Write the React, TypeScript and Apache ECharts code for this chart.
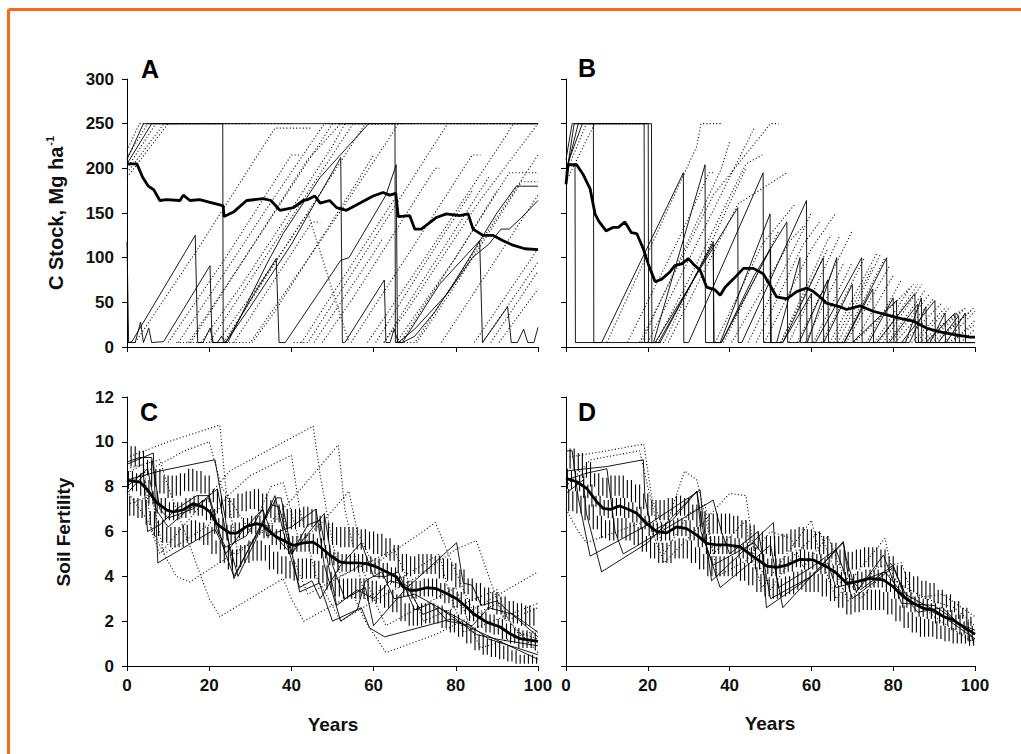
import React, { useEffect, useRef } from "react";
import * as echarts from "echarts";

// ---------- Axis settings ----------
const yearTicks = [0, 20, 40, 60, 80, 100];
const carbonMax = 300;
const carbonStep = 50;
const fertMax = 12;
const fertStep = 2;

// "-" marks a break in a dotted run (no line drawn across a harvest drop)
const G = "-";

// ---------- Panel A: C stock, scenario 1 ----------
const meanA = [[0,205],[2.4,205],[3.8,190],[5.2,180],[6.5,176],[8,164],[9.6,165],[12.9,164],[13.7,170],[15.3,164],[17.7,165],[20.2,162],[22.6,159],[23.4,158],[23.6,146],[25.9,151],[29.1,164],[33.1,166],[35,164],[37.2,153],[40.5,156],[42.9,164],[44,165],[45.7,169],[47,161],[49.3,164],[51,156],[53.4,153],[56.6,161],[59.9,169],[62.3,173],[63.9,170],[65.4,172],[66,146],[68.8,147],[70,132],[71.6,132],[75.3,145],[77.7,149],[80.9,147],[83,149],[84.2,132],[86.6,125],[89,125],[91.5,119],[93.9,114],[96.8,110],[100,109]];
const solidA1 = [[0,205],[6,250],[100,250]];
const solidA2 = [[0,210],[4,250],[23.3,250],[23.4,5],[24.5,5],[34,93],[38,127],[47,190],[58.8,250],[65.2,250],[65.3,5],[67,5],[70,12],[75,40],[80,75],[86,120],[90,150],[94.7,180],[100,180]];
const solidA3 = [[0,118],[0.4,5],[1.2,6],[16.6,125],[17.2,5],[18.5,5],[20.2,21],[21,5],[24,5],[31,60],[36.3,99],[37,5],[38.5,5],[52,97],[54,100],[63,170],[65.5,204],[65.8,5],[67,5],[76,70],[85.8,119],[86.5,5],[92.6,45],[93.5,5],[95,5],[96.5,20],[97.5,5],[99,5],[100,22]];
const solidA4 = [[0,5],[2,5],[3.3,28],[4,5],[5.3,21],[6,5],[8.9,6],[20.2,91],[20.7,5],[22,5],[23,12],[24,5],[30,45],[40,115],[52,212],[52.4,5],[53,5],[62.6,75],[63,5],[64,5],[65,20],[66,5],[70,20],[78,60],[84,100],[88,115],[91,132],[93,132],[96,145],[100,164]];
const dotA1 = [[0,200],[7,250],[40,250],[40.2,G],[40.5,5],[44,5],[78,250],[100,250]];
const dotA2 = [[0,195],[9,250],[23,250],[23.2,G],[23.5,5],[27,30],[58,250],[66,250],[66.2,G],[66.5,5],[70,5],[100,215]];
const dotA3 = [[0,212],[5,250],[12,250],[12.2,G],[12.5,5],[19,50],[34,155],[48,250],[100,250]];
const dotA4 = [[2,5],[18,115],[20,130],[36,245],[45,245],[45.2,G],[45.5,5],[60,105],[62,120],[62.2,G],[62.5,5],[70,60],[88,190],[88.2,G],[88.5,5],[100,85]];
const dotA5 = [[10,5],[24,100],[40,215],[42,215],[42.2,G],[42.5,5],[48,45],[65,165],[66,165],[66.2,G],[66.5,5],[82,115],[93,195],[100,195]];
const dotA6 = [[15,5],[33,130],[50,250],[62,250],[62.2,G],[62.5,5],[68,40],[86,165],[100,250]];
const dotA7 = [[20,5],[40,145],[55,250],[65,250],[65.2,G],[65.5,5],[80,100],[90,175],[90.2,G],[90.5,5],[100,65]];
const dotA8 = [[26,5],[45,140],[47,140],[47.2,G],[47.5,5],[55,55],[75,200],[76,200],[76.2,G],[76.5,5],[95,135],[100,170]];
const dotA9 = [[0,190],[10,250],[30,250],[30.2,G],[30.5,5],[36,40],[56,185],[60,215],[60.2,G],[60.5,5],[72,90],[84,175],[84.2,G],[84.5,5],[100,110]];
const dotA10 = [[0,220],[3,250],[15,250],[15.2,G],[15.5,5],[28,95],[44,210],[52,250],[70,250],[70.2,G],[70.5,5],[80,70],[96,185],[100,185]];
const dotA11 = [[12,5],[30,5],[48,125],[64,235],[66,250],[100,250]];
const dotA12 = [[18,5],[28,70],[38,140],[50,225],[53,250],[58,250],[58.2,G],[58.5,5],[74,110],[92,235],[94,250],[100,250]];
const dotA13 = [[22,5],[36,95],[44,150],[54,5],[54.2,G],[54.5,5],[70,115],[84,215],[86,215],[86.2,G],[86.5,5],[100,95]];

// ---------- Panel B: C stock, scenario 2 ----------
const meanB = [[0,182],[0.5,204],[2.6,204],[4.2,193],[5.9,177],[7.1,149],[8,141],[9.8,130],[11.6,134],[12.8,134],[14.4,140],[16,128],[17.3,127],[18.9,110],[20.1,93],[21.8,73],[23.4,76],[25.4,84],[26.6,91],[28.3,93],[29.9,99],[31.1,93],[32.8,86],[34.4,67],[36.4,64],[37.7,58],[38.9,67],[40.9,76],[43.4,88],[45.8,88],[48.2,82],[49.9,69],[51.5,56],[54,54],[56.4,62],[58.8,66],[60.5,62],[62.1,56],[63.7,49],[67,45],[68.6,42],[71.9,46],[75.1,40],[78.4,36],[81.7,32],[84.9,29],[88.2,21],[91.4,17],[94.7,14],[98.8,11],[100,11]];
const solidB1 = [[0,190],[2,250],[19.1,250],[19.2,5],[21.4,5],[34,204],[34.1,5],[37.7,5],[49.9,149],[50,5],[53,5],[62.9,100],[63,5],[68,5],[78.4,100],[78.5,5],[82,5],[90.2,52],[90.3,5],[93,5],[97.6,38],[97.7,5],[100,5]];
const solidB2 = [[0,204],[2.2,204],[2.3,5],[8.7,5],[28.7,195],[28.8,5],[30,5],[48.2,195],[48.3,5],[51.5,5],[57.2,100],[57.3,5],[59,5],[66.2,100],[66.3,5],[70,5],[80.8,52],[80.9,5],[83,5],[86.9,55],[87,5],[89,5],[92.7,38],[92.8,5],[100,5]];
const solidB3 = [[0,195],[3,250],[20.1,250],[20.2,5],[21.8,5],[42,156],[42.1,5],[43,5],[58.8,164],[58.9,5],[61,5],[72.3,100],[72.4,5],[76,5],[85.3,60],[85.4,5],[88,5],[95.1,38],[95.2,5],[100,5]];
const solidB4 = [[0,200],[4,250],[6.7,250],[6.8,5],[22.6,5],[36,115],[36.1,5],[38,5],[50,110],[50.2,5],[53,5],[60,60],[60.2,5],[63,5],[70,70],[70.2,5],[74,5],[80,55],[80.2,5],[84,5],[88,45],[88.2,5],[100,5]];
const solidB5 = [[0,210],[1.5,250],[20.9,250],[21,5],[23,5],[36,118],[36.2,5],[38,5],[46,80],[54,140],[54.2,5],[57,5],[64,75],[64.2,5],[68,5],[75,65],[75.2,5],[79,5],[86,48],[86.2,5],[91,5],[96,35],[96.2,5],[100,5]];
const dotB1 = [[0,195],[5,250],[20,250],[20.2,G],[20.5,5],[24,5],[44,200],[44.2,G],[44.5,5],[60,150],[60.2,G],[60.5,5],[70,95],[70.2,G],[70.5,5],[80,80],[80.2,G],[80.5,5],[90,55],[90.2,G],[90.5,5],[100,45]];
const dotB2 = [[10,5],[32,225],[33,250],[38,250],[38.2,G],[38.5,5],[52,130],[52.2,G],[52.5,5],[64,110],[64.2,G],[64.5,5],[76,105],[76.2,G],[76.5,5],[86,70],[86.2,G],[86.5,5],[96,40],[96.2,G],[96.5,5],[100,20]];
const dotB3 = [[20,5],[40,190],[46,245],[46.2,G],[46.5,5],[58,115],[62,140],[62.2,G],[62.5,5],[73,100],[73.2,G],[73.5,5],[82,75],[82.2,G],[82.5,5],[92,50],[92.2,G],[92.5,5],[100,40]];
const dotB4 = [[25,5],[42,160],[54,195],[54.2,G],[54.5,5],[67,125],[67.2,G],[67.5,5],[78,100],[78.2,G],[78.5,5],[88,65],[88.2,G],[88.5,5],[98,45]];
const dotB5 = [[15,5],[28,125],[35,195],[36,195],[36.2,G],[36.5,5],[48,115],[56,160],[56.2,G],[56.5,5],[70,130],[70.2,G],[70.5,5],[85,70],[85.2,G],[85.5,5],[94,45],[94.2,G],[94.5,5],[100,30]];
const dotB6 = [[0,185],[7,250],[18,250],[18.2,G],[18.5,5],[30,120],[38,200],[40,230],[40.2,G],[40.5,5],[55,120],[58,135],[58.2,G],[58.5,5],[68,95],[68.2,G],[68.5,5],[79,90],[79.2,G],[79.5,5],[89,60],[89.2,G],[89.5,5],[99,40]];
const dotB7 = [[18,5],[36,170],[50,250],[52,250],[52.2,G],[52.5,5],[64,120],[65,125],[65.2,G],[65.5,5],[75,90],[75.2,G],[75.5,5],[84,65],[84.2,G],[84.5,5],[93,45],[93.2,G],[93.5,5],[100,25]];
const dotB8 = [[22,5],[30,75],[44,205],[48,215],[48.2,G],[48.5,5],[60,110],[66,150],[66.2,G],[66.5,5],[77,105],[77.2,G],[77.5,5],[87,70],[87.2,G],[87.5,5],[97,42]];

// ---------- Panel C: soil fertility, scenario 1 ----------
const meanC = [[0,8.28],[3.2,8.2],[4.8,7.9],[7.2,7.3],[9.7,6.95],[11.3,6.87],[13.7,6.97],[16.1,7.24],[18.6,7.09],[20.2,6.87],[21.8,6.35],[23.4,6.13],[25.1,5.93],[26.7,5.93],[29.1,6.23],[31.5,6.35],[33.2,6.27],[34.8,5.98],[36.4,5.75],[38.8,5.53],[40.5,5.38],[42.9,5.49],[45.3,5.53],[47,5.31],[49.4,4.94],[51.8,4.64],[53.4,4.6],[55.9,4.6],[58.3,4.57],[60.7,4.42],[63.2,4.19],[65.6,3.97],[67.2,3.52],[68.9,3.38],[70.5,3.38],[72.9,3.49],[75.3,3.45],[77.8,3.23],[80.2,3.0],[82.6,2.63],[84.3,2.33],[87.5,1.96],[90.8,1.74],[93.2,1.44],[95.6,1.22],[100,1.1]];
const solidC1 = [[0,9.0],[6.4,9.5],[7.5,4.6],[21.4,6.1],[23,5.5],[26,4.0],[36.4,7.5],[37.5,7.5],[42,3.3],[46.8,3.7],[50,2.0],[57,2.6],[59,1.7],[62.7,1.3],[79,2.1],[86,1.5],[100,0.3]];
const solidC2 = [[0,8.3],[8,8.7],[21.4,9.2],[24,6.5],[26,3.9],[35,7.2],[37,7.1],[40,5.0],[48,6.8],[50,4.5],[53,3.0],[58,3.5],[60,1.8],[67.6,3.4],[80.2,5.5],[81.8,3.7],[84,3.6],[86.2,2.7],[90,2.9],[100,1.3]];
const solidC3 = [[0,7.7],[4,8.5],[5,6.0],[8,6.3],[12,7.0],[17,7.6],[20,7.6],[24,5.0],[28,6.0],[33,7.0],[34,5.8],[40,6.2],[46,7.0],[48,4.5],[52,2.0],[56,2.5],[58,3.8],[62,4.2],[65,3.0],[70,3.2],[75,2.7],[80,2.1],[85,1.4],[90,1.2],[100,0.9]];
const solidC4 = [[0,9.1],[3,9.3],[6,9.3],[8,7.0],[10,6.6],[16,7.0],[22,7.9],[24,6.0],[27,4.0],[31,5.5],[36,7.6],[38,6.0],[42,3.5],[45,3.8],[47,3.0],[52,4.5],[57,5.5],[60,4.0],[63,4.0],[66,4.2],[70,2.5],[74,2.8],[78,2.0],[84,1.8],[88,2.6],[94,2.3],[100,1.5]];
const solidC5 = [[0,8.0],[5,8.8],[7,7.0],[10,6.2],[15,7.0],[20,7.5],[22,6.0],[24,5.3],[29,5.8],[33,7.0],[35,6.0],[40,5.0],[44,6.3],[47,6.5],[49,4.5],[51,2.7],[56,3.4],[60,3.0],[64,3.8],[68,3.6],[72,2.3],[76,2.6],[82,2.0],[88,1.2],[95,0.8],[100,0.5]];
const dotC1 = [[0,9.3],[10,10.0],[22.6,10.75],[24,8.0],[27,5.0],[38,6.8],[40,5.0],[44,3.2],[57,4.5],[60,3.0],[63,1.8],[80,3.5],[83,2.0],[86,0.8],[100,1.6]];
const dotC2 = [[0,8.6],[4,9.0],[6,6.0],[8,5.0],[25,8.7],[45.3,10.7],[47,8.5],[50,5.5],[52,4.0],[65,5.2],[68,4.0],[72,2.0],[90,3.4],[93,2.0],[100,0.6]];
const dotC3 = [[0,7.2],[6,7.6],[9,5.0],[12,4.0],[15.3,3.75],[30,5.5],[40,7.4],[51.4,9.86],[53,7.0],[56,4.5],[58,3.0],[70,4.3],[76,5.0],[78,3.5],[82,1.5],[100,2.8]];
const dotC4 = [[0,8.8],[8,9.2],[10,8.0],[14,6.0],[20,3.0],[22.6,2.2],[38,3.9],[40,3.0],[43,2.0],[55,3.2],[58,2.0],[63,0.6],[75,1.4],[90,2.8],[95,1.5],[100,1.2]];
const dotC5 = [[0,7.8],[5,6.5],[9,5.0],[20,6.3],[24,7.5],[30,8.5],[40,9.4],[42,7.0],[46,4.0],[52,2.0],[60,2.9],[70,3.9],[80,5.2],[85,5.6],[88,4.0],[92,2.0],[100,2.6]];
const dotC6 = [[0,8.2],[14,9.6],[20,10.0],[23,8.0],[30,6.0],[35,8.0],[38,8.2],[42,5.5],[48,6.5],[54,7.8],[56,6.0],[60,4.5],[72,6.0],[75,6.4],[80,4.2],[84,2.5],[100,4.2]];
// yearly values (year 0..100) of the hatched runs
const hatchC1 = [9.8,8.9,9.8,8.9,9.6,8.5,9.2,8.0,8.8,7.7,8.5,7.5,8.5,7.6,8.6,7.8,8.8,7.8,8.7,7.7,8.5,7.3,7.9,6.8,7.6,6.6,7.5,6.6,7.7,6.9,7.8,7.0,7.9,6.9,7.7,6.6,7.4,6.4,7.2,6.1,7.0,6.1,7.0,6.2,7.1,6.2,7.0,6.0,6.7,5.6,6.4,5.4,6.2,5.3,6.2,5.3,6.2,5.2,6.1,5.2,6.0,5.0,5.9,4.9,5.7,4.7,5.4,4.2,5.0,4.0,4.9,4.1,5.0,4.1,5.0,4.1,4.9,3.9,4.8,3.8,4.6,3.5,4.3,3.2,3.9,2.9,3.7,2.7,3.5,2.5,3.3,2.3,3.1,2.1,2.9,1.9,2.8,1.8,2.7,1.8,2.6];
const hatchC2 = [7.9,8.7,7.8,8.6,7.6,8.3,7.2,7.8,6.8,7.5,6.5,7.3,6.5,7.3,6.6,7.5,6.8,7.6,6.7,7.4,6.5,7.0,5.9,6.6,5.6,6.3,5.5,6.4,5.7,6.6,5.9,6.7,5.9,6.7,5.7,6.3,5.4,6.1,5.2,5.9,5.0,5.8,5.1,5.9,5.1,5.9,5.0,5.7,4.8,5.4,4.5,5.1,4.2,5.0,4.2,5.0,4.2,5.0,4.2,4.9,4.1,4.8,3.9,4.6,3.7,4.4,3.5,4.0,3.1,3.8,3.0,3.8,3.1,3.9,3.1,3.9,3.0,3.7,2.8,3.5,2.6,3.3,2.3,3.0,2.0,2.7,1.7,2.4,1.5,2.3,1.4,2.1,1.2,1.9,1.0,1.7,0.8,1.6,0.8,1.5,0.7];
const hatchC3 = [7.6,6.7,7.5,6.6,7.4,6.3,6.9,5.8,6.5,5.5,6.2,5.3,6.2,5.3,6.3,5.5,6.5,5.6,6.4,5.4,6.2,5.0,5.6,4.6,5.4,4.3,5.2,4.4,5.4,4.6,5.6,4.7,5.6,4.7,5.4,4.3,5.1,4.1,4.9,3.9,4.7,3.8,4.8,3.9,4.8,3.9,4.7,3.7,4.5,3.4,4.2,3.1,3.9,3.0,3.9,3.0,3.9,3.0,3.9,2.9,3.8,2.8,3.6,2.6,3.4,2.4,3.2,2.0,2.8,1.8,2.7,1.8,2.8,1.9,2.8,1.9,2.7,1.7,2.5,1.5,2.3,1.3,2.0,1.0,1.7,0.7,1.4,0.5,1.2,0.4,1.1,0.3,0.9,0.2,0.7,0.1,0.5,0.1,0.5,0.1,0.4];

// ---------- Panel D: soil fertility, scenario 2 ----------
const meanD = [[0,8.37],[2.6,8.22],[5.1,7.92],[7.5,7.33],[9.1,7.03],[10.8,6.99],[13.2,7.14],[15.6,6.96],[17.3,6.81],[19.7,6.36],[22.2,5.99],[24.6,5.94],[27.1,6.21],[29.5,6.13],[32,5.84],[34.4,5.47],[36.8,5.4],[39.3,5.4],[42.5,5.32],[45.8,4.88],[49.1,4.46],[51.5,4.4],[54,4.5],[57.2,4.76],[60.5,4.73],[63.7,4.43],[66.2,4.13],[68.6,3.69],[71.1,3.76],[74.3,3.91],[77.6,3.84],[80,3.54],[82.5,3.09],[84.9,2.8],[87.4,2.57],[89.8,2.5],[92.3,2.2],[94.7,2.05],[97.1,1.75],[100,1.42]];
const solidD1 = [[0,9.6],[1.5,9.6],[3,7.5],[5.9,4.9],[20,6.3],[32.8,7.85],[33.5,6.5],[35.6,3.8],[50.7,6.4],[51.5,4.0],[53,2.6],[67.8,5.55],[68.5,4.8],[71,3.3],[77.6,4.95],[80,3.8],[82,2.8],[90,2.7],[100,1.4]];
const solidD2 = [[0,8.7],[10,8.9],[18.9,9.2],[19.3,7.5],[21,6.0],[26,6.5],[32,7.8],[34,5.5],[37.7,3.5],[45,4.6],[50,5.4],[52,3.5],[60,4.4],[66,5.2],[68,4.2],[70,3.0],[80,4.4],[83,3.2],[90,2.5],[100,1.2]];
const solidD3 = [[0,7.7],[4.2,8.3],[5,6.8],[8.7,4.2],[20,5.5],[32,7.8],[33,6.0],[36,4.5],[46,5.5],[48,5.0],[49,2.6],[60,4.0],[67.8,5.5],[69,4.0],[72,3.4],[80,4.5],[83,3.0],[92,2.2],[100,1.6]];
const solidD4 = [[0,8.3],[5,8.6],[10,8.8],[12,6.0],[14,5.0],[26,6.3],[36,7.4],[38,6.0],[40,5.0],[47,6.0],[49,4.0],[50,3.0],[60,4.0],[64,4.6],[66,3.5],[72,3.8],[78,4.2],[82,3.3],[86,2.4],[92,2.6],[100,1.2]];
const dotD1 = [[0,9.3],[10,9.6],[19,9.9],[21,7.5],[24,6.0],[29,8.7],[32,8.3],[36,5.0],[44,6.5],[45,5.0],[48,3.5],[60,6.5],[62,5.0],[66,3.0],[78,5.7],[80,4.0],[84,3.0],[92,3.2],[100,2.2]];
const dotD2 = [[0,7.0],[3,6.0],[5,5.5],[20,6.5],[24,4.6],[34,6.5],[40,7.7],[44,7.6],[46,5.0],[50,3.4],[56,5.0],[62,6.0],[65,4.6],[69,2.9],[76,4.4],[82,4.6],[85,3.0],[90,2.2],[100,1.0]];
const dotD3 = [[0,8.0],[6,9.2],[18,9.6],[20,8.0],[24,5.0],[30,6.8],[34,7.2],[37,4.0],[44,4.7],[50,6.0],[55,5.7],[58,4.4],[64,5.8],[67,4.4],[72,3.0],[78,4.2],[82,3.6],[88,3.0],[95,2.6],[100,1.8]];
const hatchD1 = [9.8,8.8,9.7,8.7,9.5,8.4,9.1,8.0,8.6,7.6,8.4,7.5,8.5,7.6,8.5,7.5,8.3,7.3,8.1,7.0,7.7,6.7,7.4,6.5,7.4,6.5,7.5,6.7,7.6,6.7,7.5,6.5,7.2,6.2,6.9,5.9,6.8,5.9,6.8,5.9,6.8,5.9,6.7,5.7,6.5,5.5,6.3,5.2,6.0,5.0,5.8,4.9,5.8,5.0,5.9,5.1,6.1,5.3,6.2,5.2,6.1,5.2,6.0,5.0,5.8,4.8,5.5,4.5,5.2,4.2,5.1,4.3,5.2,4.4,5.3,4.4,5.3,4.4,5.2,4.2,4.9,3.9,4.5,3.5,4.2,3.3,4.0,3.1,3.8,3.0,3.7,2.8,3.4,2.6,3.2,2.4,2.9,2.1,2.6,1.8,2.2];
const hatchD2 = [8.8,7.9,8.7,7.8,8.5,7.5,8.1,7.1,7.6,6.7,7.4,6.6,7.5,6.7,7.5,6.6,7.3,6.4,7.1,6.1,6.7,5.8,6.4,5.6,6.4,5.6,6.5,5.8,6.6,5.8,6.5,5.6,6.2,5.3,5.9,5.0,5.8,5.0,5.8,5.0,5.8,5.0,5.7,4.8,5.5,4.6,5.3,4.3,5.0,4.1,4.8,4.0,4.8,4.1,4.9,4.2,5.1,4.4,5.2,4.3,5.1,4.3,5.0,4.1,4.8,3.9,4.5,3.6,4.2,3.3,4.1,3.4,4.2,3.5,4.3,3.5,4.3,3.5,4.2,3.3,3.9,3.0,3.6,2.6,3.3,2.4,3.1,2.2,3.0,2.1,2.8,1.9,2.6,1.8,2.5,1.6,2.3,1.4,2.0,1.1,1.8];
const hatchD3 = [7.9,6.9,7.8,6.8,7.6,6.5,7.2,6.1,6.7,5.7,6.5,5.6,6.6,5.7,6.6,5.6,6.4,5.4,6.2,5.1,5.8,4.8,5.5,4.6,5.5,4.6,5.6,4.8,5.7,4.8,5.6,4.6,5.3,4.3,5.0,4.0,4.9,4.0,4.9,4.0,4.9,4.0,4.8,3.8,4.6,3.6,4.4,3.3,4.1,3.1,3.9,3.0,3.9,3.1,4.0,3.2,4.2,3.4,4.3,3.3,4.2,3.3,4.1,3.1,3.9,2.9,3.6,2.6,3.3,2.3,3.2,2.4,3.3,2.5,3.4,2.5,3.4,2.5,3.3,2.3,3.0,2.0,2.7,1.7,2.4,1.5,2.2,1.3,2.1,1.3,2.0,1.2,1.8,1.1,1.7,1.0,1.5,1.0,1.4,0.9,1.2];

const FONT = "'Liberation Sans', Arial, Helvetica, sans-serif";

type Kind = "mean" | "solid" | "dot";

function mk(data: any[], panel: number, kind: Kind) {
  const styles: Record<Kind, any> = {
    mean: { width: 2.8, type: "solid", z: 10, color: "#000" },
    solid: { width: 0.9, type: "solid", z: 6, color: "#000" },
    dot: { width: 1.1, type: [1.1, 2.2], z: 2, color: "#111" },
  };
  const s = styles[kind];
  return {
    type: "line",
    xAxisIndex: panel,
    yAxisIndex: panel,
    data,
    symbol: "none",
    silent: true,
    connectNulls: false,
    z: s.z,
    lineStyle: { color: s.color, width: s.width, type: s.type },
  };
}

// yearly hatch runs -> short vertical strokes, one per year step, run k shifted by k/3 year
function hatchSeries(runs: number[][], panel: number) {
  const bars: number[][] = [];
  runs.forEach((vals, k) => {
    for (let i = 0; i < vals.length - 1; i++) {
      const a = vals[i];
      const b = vals[i + 1];
      bars.push([i + k / 3, Math.min(a, b), Math.max(a, b)]);
    }
  });
  return {
    type: "custom",
    xAxisIndex: panel,
    yAxisIndex: panel,
    silent: true,
    z: 4,
    clip: true,
    data: bars,
    encode: { x: 0, y: [1, 2] },
    renderItem: (_p: any, api: any) => {
      const p1 = api.coord([api.value(0), api.value(1)]);
      const p2 = api.coord([api.value(0), api.value(2)]);
      return {
        type: "line",
        shape: { x1: p1[0], y1: p1[1], x2: p2[0], y2: p2[1] },
        style: { stroke: "#000", lineWidth: 1.1 },
      };
    },
  };
}

export default function App() {
  const ref = useRef<HTMLDivElement>(null);

  useEffect(() => {
    if (!ref.current) return;
    const chart = echarts.init(ref.current, undefined, { renderer: "svg" });

    const grids = [
      { left: 127, top: 79, width: 411, height: 268 },
      { left: 566, top: 79, width: 409, height: 268 },
      { left: 127, top: 397, width: 411, height: 269 },
      { left: 566, top: 397, width: 409, height: 269 },
    ];

    const labelStyle = {
      fontFamily: FONT,
      fontWeight: "bold",
      fontSize: 17,
      color: "#111",
    };

    const xAxes = grids.map((_, i) => ({
      type: "value",
      gridIndex: i,
      min: yearTicks[0],
      max: yearTicks[yearTicks.length - 1],
      interval: yearTicks[1] - yearTicks[0],
      axisLine: { show: true, lineStyle: { color: "#000", width: 1 } },
      axisTick: { show: true, length: 5, lineStyle: { color: "#000" } },
      axisLabel: { show: i >= 2, margin: 11, ...labelStyle },
      splitLine: { show: false },
    }));

    const yAxes = grids.map((_, i) => ({
      type: "value",
      gridIndex: i,
      min: 0,
      max: i < 2 ? carbonMax : fertMax,
      interval: i < 2 ? carbonStep : fertStep,
      axisLine: { show: true, lineStyle: { color: "#000", width: 1 } },
      axisTick: { show: true, length: 5, lineStyle: { color: "#000" } },
      axisLabel: { show: i % 2 === 0, margin: 13, ...labelStyle },
      splitLine: { show: false },
    }));

    const series: any[] = [
      // Panel A
      ...[dotA1, dotA2, dotA3, dotA4, dotA5, dotA6, dotA7, dotA8, dotA9, dotA10, dotA11, dotA12, dotA13].map((d) => mk(d, 0, "dot")),
      ...[solidA1, solidA2, solidA3, solidA4].map((d) => mk(d, 0, "solid")),
      mk(meanA, 0, "mean"),
      // Panel B
      ...[dotB1, dotB2, dotB3, dotB4, dotB5, dotB6, dotB7, dotB8].map((d) => mk(d, 1, "dot")),
      ...[solidB1, solidB2, solidB3, solidB4, solidB5].map((d) => mk(d, 1, "solid")),
      mk(meanB, 1, "mean"),
      // Panel C
      ...[dotC1, dotC2, dotC3, dotC4, dotC5, dotC6].map((d) => mk(d, 2, "dot")),
      hatchSeries([hatchC1, hatchC2, hatchC3], 2),
      ...[solidC1, solidC2, solidC3, solidC4, solidC5].map((d) => mk(d, 2, "solid")),
      mk(meanC, 2, "mean"),
      // Panel D
      ...[dotD1, dotD2, dotD3].map((d) => mk(d, 3, "dot")),
      hatchSeries([hatchD1, hatchD2, hatchD3], 3),
      ...[solidD1, solidD2, solidD3, solidD4].map((d) => mk(d, 3, "solid")),
      mk(meanD, 3, "mean"),
    ];

    const letter = (t: string, x: number, y: number) => ({
      type: "text",
      x,
      y,
      silent: true,
      style: {
        text: t,
        font: `bold 25px ${FONT}`,
        fill: "#000",
        align: "center",
        verticalAlign: "middle",
      },
    });

    const orange = "#FF6A10";

    chart.setOption({
      animation: false,
      backgroundColor: "#fff",
      grid: grids.map((g) => ({ ...g, containLabel: false })),
      xAxis: xAxes,
      yAxis: yAxes,
      series,
      graphic: [
        { type: "line", silent: true, shape: { x1: 8.5, y1: 9.5, x2: 1021, y2: 9.5 }, style: { stroke: orange, lineWidth: 3 } },
        { type: "line", silent: true, shape: { x1: 8.5, y1: 9.5, x2: 8.5, y2: 754 }, style: { stroke: orange, lineWidth: 3 } },
        letter("A", 150, 69),
        letter("B", 587, 68),
        letter("C", 149, 412),
        letter("D", 587, 412),
        {
          type: "text",
          x: 56,
          y: 213,
          rotation: Math.PI / 2,
          silent: true,
          style: {
            text: "{a|C Stock, Mg ha}{b|-1}",
            align: "center",
            verticalAlign: "middle",
            fill: "#111",
            rich: {
              a: { fontFamily: FONT, fontWeight: "bold", fontSize: 20, fill: "#111" },
              b: { fontFamily: FONT, fontWeight: "bold", fontSize: 11, fill: "#111", padding: [0, 0, 12, 1] },
            },
          },
        },
        {
          type: "text",
          x: 63,
          y: 532,
          rotation: Math.PI / 2,
          silent: true,
          style: {
            text: "Soil Fertility",
            font: `bold 19px ${FONT}`,
            fill: "#111",
            align: "center",
            verticalAlign: "middle",
          },
        },
        {
          type: "text",
          x: 333,
          y: 724,
          silent: true,
          style: { text: "Years", font: `bold 19px ${FONT}`, fill: "#111", align: "center", verticalAlign: "middle" },
        },
        {
          type: "text",
          x: 770,
          y: 723,
          silent: true,
          style: { text: "Years", font: `bold 19px ${FONT}`, fill: "#111", align: "center", verticalAlign: "middle" },
        },
      ],
    });

    return () => chart.dispose();
  }, []);

  return (
    <div
      ref={ref}
      style={{ position: "absolute", left: 0, top: 0, width: 1021, height: 754, background: "#fff" }}
    />
  );
}
